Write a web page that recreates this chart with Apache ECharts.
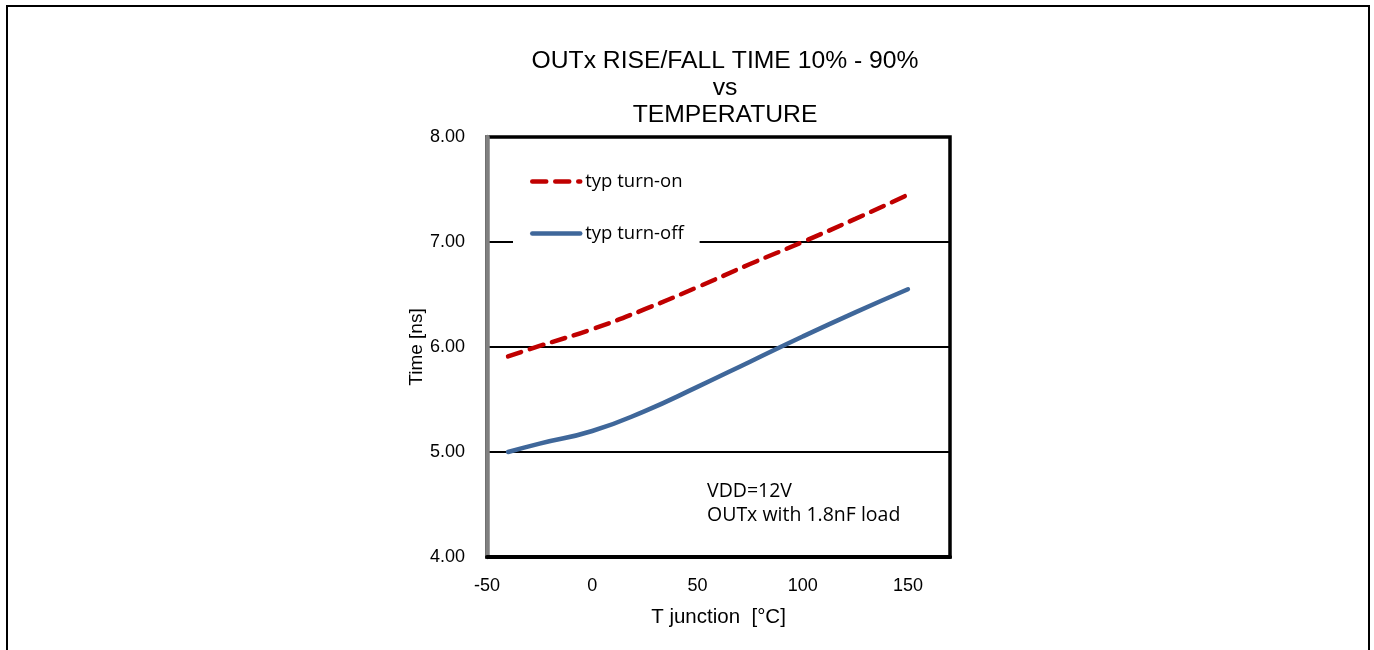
<!DOCTYPE html>
<html>
<head>
<meta charset="utf-8">
<script src="https://cdn.jsdelivr.net/npm/echarts@6/dist/echarts.min.js"></script>
<style>
  html, body { margin: 0; padding: 0; background: #fff; }
  #chart { width: 1374px; height: 650px; }
</style>
</head>
<body>
<div id="chart"></div>
<script>
// Data
const temps = [-40, -25, 0, 25, 50, 75, 100, 125, 150];
const turnOn = [5.91, 6.01, 6.17, 6.36, 6.57, 6.79, 7.00, 7.22, 7.45];
const turnOff = [5.00, 5.08, 5.20, 5.39, 5.62, 5.86, 6.10, 6.33, 6.55];
const seriesNames = ['typ turn-on', 'typ turn-off'];
const titleText = 'OUTx RISE/FALL TIME 10% - 90%\nvs\nTEMPERATURE';
const xName = 'T junction  [°C]';
const yName = 'Time [ns]';
const noteLines = ['VDD=12V', 'OUTx with 1.8nF load'];

const pairs = (ys) => temps.map((t, i) => [t, ys[i]]);

const chart = echarts.init(document.getElementById('chart'));
chart.setOption({
  backgroundColor: '#fff',
  animation: false,
  title: {
    text: titleText,
    left: 720,
    top: 43,
    textAlign: 'center',
    textStyle: {
      fontFamily: 'Liberation Sans',
      fontWeight: 'normal',
      fontSize: 24.7,
      lineHeight: 27,
      color: '#000'
    }
  },
  legend: {
    orient: 'vertical',
    left: 513,
    top: 162,
    padding: [10, 16, 12, 17],
    backgroundColor: '#fff',
    itemWidth: 48,
    itemHeight: 14,
    itemGap: 33,
    itemStyle: { opacity: 0 },
    lineStyle: { width: 4.5 },
    textStyle: { fontFamily: 'Open Sans', fontSize: 18.5, color: '#000' },
    data: seriesNames
  },
  grid: {
    left: 487, top: 137, right: 424, bottom: 93,
    show: true, borderColor: '#000', borderWidth: 3.5
  },
  xAxis: {
    type: 'value',
    min: -50, max: 170, interval: 50,
    name: xName,
    nameLocation: 'middle',
    nameGap: 50,
    nameTextStyle: { fontFamily: 'Liberation Sans', fontSize: 20.5, color: '#000' },
    axisLine: { show: true, onZero: false, lineStyle: { color: '#000', width: 4 } },
    axisTick: { show: false },
    axisLabel: {
      showMaxLabel: false,
      margin: 20,
      fontFamily: 'Liberation Sans', fontSize: 18, color: '#000',
      formatter: (v) => (v > 150 ? '' : String(v))
    },
    splitLine: { show: false }
  },
  yAxis: {
    type: 'value',
    min: 4, max: 8, interval: 1,
    name: yName,
    nameLocation: 'middle',
    nameGap: 61,
    nameTextStyle: { fontFamily: 'Liberation Sans', fontSize: 19, color: '#000' },
    axisLine: { show: true, onZero: false, lineStyle: { color: '#808080', width: 4.5 } },
    axisTick: { show: false },
    axisLabel: {
      margin: 22,
      fontFamily: 'Liberation Sans', fontSize: 18, color: '#000',
      formatter: (v) => v.toFixed(2)
    },
    splitLine: { show: true, lineStyle: { color: '#000', width: 2 } }
  },
  graphic: [
    {
      type: 'rect',
      shape: { x: 7, y: 6, width: 1362, height: 700 },
      style: { fill: 'none', stroke: '#000', lineWidth: 2 },
      silent: true
    },
    {
      type: 'text', left: 707, top: 481,
      style: { text: noteLines[0], font: '19.5px "Open Sans"', fill: '#000' }
    },
    {
      type: 'text', left: 707, top: 505,
      style: { text: noteLines[1], font: '19.5px "Open Sans"', fill: '#000' }
    }
  ],
  series: [
    {
      name: seriesNames[0],
      type: 'line',
      smooth: true,
      symbol: 'none',
      data: pairs(turnOn),
      lineStyle: { color: '#C00000', width: 4.5, type: [14, 9], cap: 'round' },
      itemStyle: { color: '#C00000' }
    },
    {
      name: seriesNames[1],
      type: 'line',
      smooth: true,
      symbol: 'none',
      data: pairs(turnOff),
      lineStyle: { color: '#3F679A', width: 4.5, cap: 'round' },
      itemStyle: { color: '#3F679A' }
    }
  ]
});
</script>
</body>
</html>
